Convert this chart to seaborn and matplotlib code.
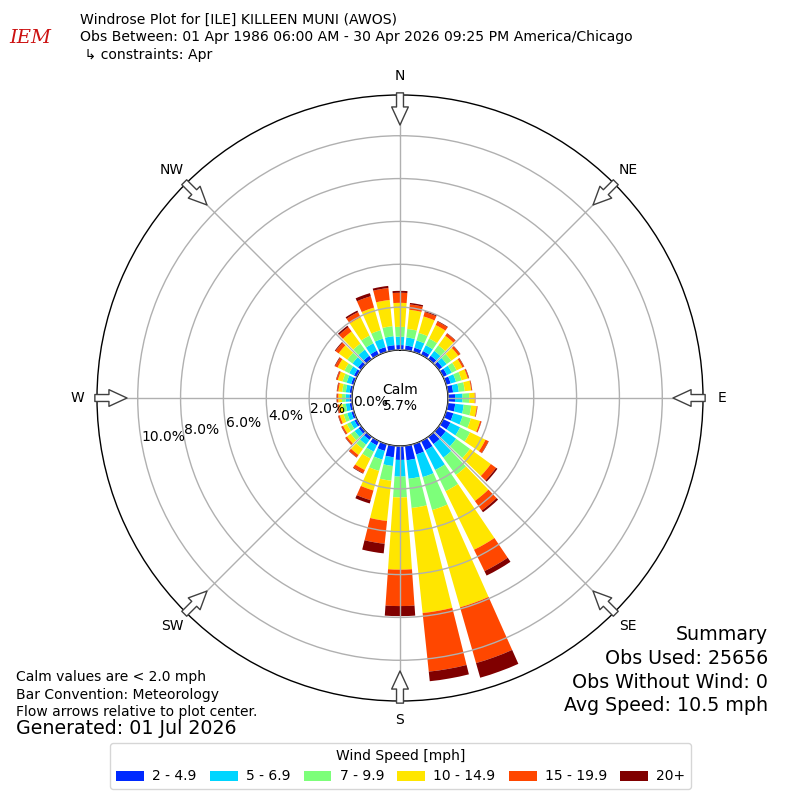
import numpy as np
import matplotlib
matplotlib.use('Agg')
import matplotlib.pyplot as plt
import seaborn as sns

# Wind direction (deg, meteorological) and speed bins
directions = np.arange(0, 360, 10)
speed_bins = ['2 - 4.9', '5 - 6.9', '7 - 9.9', '10 - 14.9', '15 - 19.9', '20+']

pct_2_5 = [0.23, 0.22, 0.20, 0.20, 0.20, 0.20, 0.20, 0.22, 0.25, 0.33, 0.35, 0.35,
           0.38, 0.40, 0.42, 0.47, 0.50, 0.68, 0.65, 0.54, 0.33, 0.22, 0.18, 0.15,
           0.13, 0.12, 0.12, 0.12, 0.12, 0.13, 0.15, 0.18, 0.20, 0.22, 0.23, 0.24]
pct_5_7 = [0.39, 0.38, 0.35, 0.30, 0.28, 0.25, 0.25, 0.26, 0.27, 0.35, 0.40, 0.45,
           0.50, 0.60, 0.78, 1.03, 1.10, 0.87, 0.78, 0.41, 0.42, 0.33, 0.27, 0.23,
           0.20, 0.20, 0.18, 0.18, 0.18, 0.22, 0.25, 0.32, 0.35, 0.38, 0.41, 0.42]
pct_7_10 = [0.46, 0.40, 0.37, 0.35, 0.32, 0.27, 0.25, 0.27, 0.28, 0.31, 0.35, 0.40,
            0.52, 0.80, 1.00, 1.10, 1.60, 1.37, 0.97, 0.69, 0.55, 0.35, 0.25, 0.22,
            0.19, 0.18, 0.16, 0.17, 0.17, 0.20, 0.25, 0.30, 0.35, 0.40, 0.41, 0.47]
pct_10_15 = [1.12, 0.90, 0.80, 0.70, 0.55, 0.40, 0.30, 0.30, 0.30, 0.26, 0.26, 0.45,
             0.80, 1.20, 1.50, 3.04, 4.72, 4.93, 3.37, 1.89, 0.95, 0.60, 0.35, 0.22,
             0.20, 0.18, 0.17, 0.17, 0.18, 0.23, 0.35, 0.50, 0.70, 0.95, 1.10, 1.23]
pct_15_20 = [0.47, 0.25, 0.21, 0.18, 0.13, 0.11, 0.08, 0.05, 0.04, 0.02, 0.03, 0.06,
             0.15, 0.30, 0.55, 1.11, 2.71, 2.75, 1.70, 1.07, 0.47, 0.16, 0.13, 0.08,
             0.07, 0.07, 0.06, 0.06, 0.06, 0.07, 0.13, 0.18, 0.25, 0.27, 0.55, 0.56]
pct_20_up = [0.09, 0.07, 0.05, 0.03, 0.02, 0.02, 0.02, 0.02, 0.01, 0.01, 0.01, 0.01,
             0.02, 0.08, 0.10, 0.23, 0.71, 0.45, 0.47, 0.45, 0.16, 0.03, 0.02, 0.02,
             0.02, 0.02, 0.02, 0.02, 0.02, 0.02, 0.03, 0.04, 0.08, 0.08, 0.15, 0.10]
series = [pct_2_5, pct_5_7, pct_7_10, pct_10_15, pct_15_20, pct_20_up]

calm_pct = 5.7
radial_ticks = [0, 2, 4, 6, 8, 10]
compass_angles = [0, 45, 90, 135, 180, 225, 270, 315]
compass_labels = ['N', 'NE', 'E', 'SE', 'S', 'SW', 'W', 'NW']

title_lines = ['Windrose Plot for [ILE] KILLEEN MUNI (AWOS)',
               'Obs Between: 01 Apr 1986 06:00 AM - 30 Apr 2026 09:25 PM America/Chicago',
               ' \u21b3 constraints: Apr']
note_lines = ['Calm values are < 2.0 mph', 'Bar Convention: Meteorology',
              'Flow arrows relative to plot center.']
generated = 'Generated: 01 Jul 2026'
summary_lines = ['Summary', 'Obs Used: 25656', 'Obs Without Wind: 0',
                 'Avg Speed: 10.5 mph']

sns.set_style('white', {'axes.edgecolor': 'black', 'text.color': 'black',
                        'xtick.color': 'black', 'ytick.color': 'black'})
plt.rcParams['font.family'] = ['DejaVu Sans']

colors = sns.color_palette(plt.get_cmap('jet')(np.linspace(0, 1, 7)[1:]))

fig = plt.figure(figsize=(8, 8), dpi=100)
ax = fig.add_axes([0.12125, 0.12375, 0.7575, 0.7575], projection='polar')
ax.set_theta_zero_location('N')
ax.set_theta_direction(-1)

# stacked bars
theta = np.deg2rad(directions)
bottom = np.zeros(len(directions))
for vals, label, color in zip(series, speed_bins, colors):
    ax.bar(theta, vals, width=np.deg2rad(8), bottom=bottom, color=color,
           label=label, linewidth=0, zorder=1)
    bottom = bottom + np.array(vals)

ax.set_rorigin(-2.24)
ax.set_ylim(0, 11.9)
ax.set_yticks(radial_ticks)
ax.set_yticklabels([])
ax.set_thetagrids(compass_angles, compass_labels, fontsize=10)
ax.tick_params(axis='x', pad=3.5)
ax.set_axisbelow(False)
ax.grid(True, color='#b0b0b0', linewidth=1)
for sp in ax.spines.values():
    sp.set_color('black')
    sp.set_linewidth(1)

# radial labels
for r in radial_ticks:
    ax.text(np.deg2rad(260.5), r, f'{r:.1f}%', ha='left', va='baseline',
            fontsize=10, zorder=5)

ax.text(0.5, 0.5, f'Calm\n{calm_pct}%', transform=ax.transAxes,
        ha='center', va='center', fontsize=10, zorder=5)

# flow arrows pointing to center
for ang in compass_angles:
    ax.annotate('', xy=(np.deg2rad(ang), 10.5), xytext=(np.deg2rad(ang), 12.0),
                annotation_clip=False, zorder=6,
                arrowprops=dict(arrowstyle='simple,head_length=1.3,head_width=1.2,tail_width=0.5',
                                mutation_scale=10, fc='white', ec='#404040', lw=1,
                                shrinkA=0, shrinkB=0))

# header
fig.text(0.0375, 0.9525, 'IEM', color='#cc1111', fontsize=14, style='italic',
         family='DejaVu Serif', ha='center', va='center')
for i, line in enumerate(title_lines):
    fig.text(0.1, 1 - (19.5 + 17.5 * i) / 800, line, fontsize=10.1, va='center')

# footer notes
for i, line in enumerate(note_lines):
    fig.text(0.02, 1 - (677 + 17.5 * i) / 800, line, fontsize=10, va='center')
fig.text(0.02, 1 - 729 / 800, generated, fontsize=13.7, va='center')

for i, line in enumerate(summary_lines):
    fig.text(0.96, 1 - (635 + 23.5 * i) / 800, line, fontsize=13.7, ha='right', va='center')

fig.legend(loc='lower center', bbox_to_anchor=(0.501, 0.005), ncol=6,
           title='Wind Speed [mph]', fontsize=10, title_fontsize=10,
           frameon=True, fancybox=True, edgecolor='#cccccc',
           handlelength=2.0, handleheight=0.7, handletextpad=0.6,
           columnspacing=0.95)

fig.savefig('out.png', dpi=100)
